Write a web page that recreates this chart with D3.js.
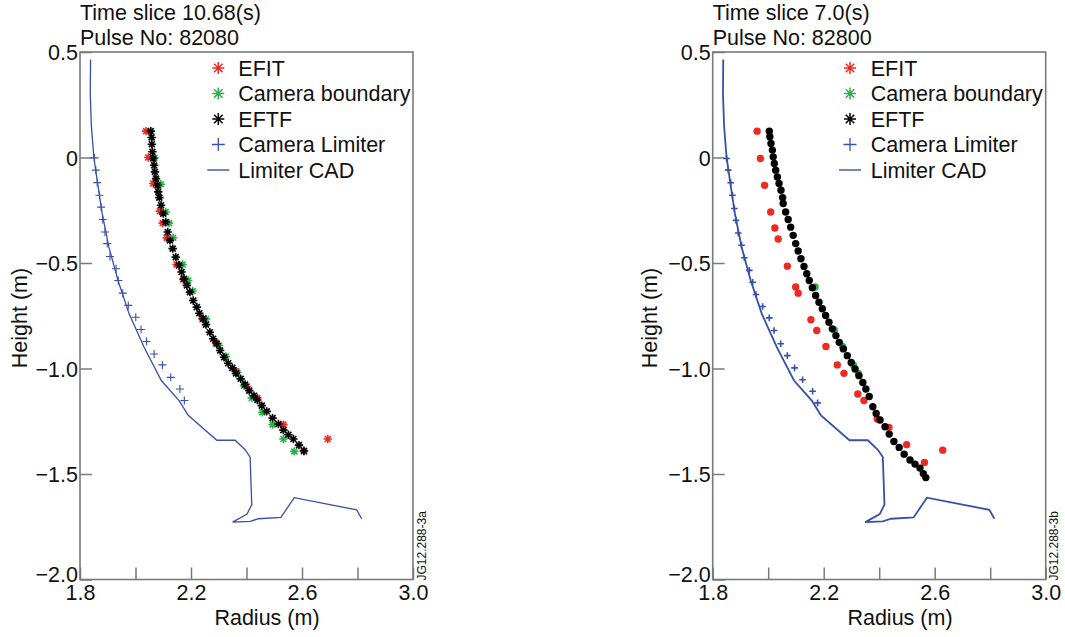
<!DOCTYPE html>
<html>
  <head>
    <title>EFIT / EFTF boundary comparison</title>
    <script src="https://d3js.org/d3.v7.min.js" charset="utf-8"></script>
    <style>
      body { margin: 0; background: #fff; }
      text { font-family: "Liberation Sans", Arial, Helvetica, sans-serif; fill: #111; }
    </style>
  </head>
  <body>
    <script>
      // ---- data (radius m, height m) ----
      var limiterCAD = [[1.838,0.465],[1.837,0.30],[1.841,0.15],[1.850,0.0],[1.862,-0.108],[1.880,-0.266],
        [1.904,-0.424],[1.937,-0.583],[1.977,-0.741],[2.031,-0.899],[2.093,-1.057],[2.157,-1.152],[2.190,-1.222],
        [2.293,-1.340],[2.359,-1.340],[2.395,-1.385],[2.413,-1.420],[2.419,-1.645],[2.402,-1.690],[2.350,-1.728],
        [2.413,-1.725],[2.443,-1.712],[2.524,-1.706],[2.572,-1.612],[2.797,-1.670],[2.815,-1.712]];

      // left panel, pulse 82080, t = 10.68 s
      var camLimiterA = [[1.852,-0.002],[1.857,-0.06],[1.862,-0.119],[1.870,-0.179],[1.876,-0.235],[1.882,-0.294],
        [1.890,-0.353],[1.898,-0.408],[1.908,-0.469],[1.930,-0.527],[1.938,-0.583],[1.954,-0.643],[1.974,-0.701],
        [2.001,-0.757],[2.020,-0.815],[2.040,-0.872],[2.067,-0.931],[2.097,-0.983],[2.127,-1.042],[2.160,-1.097],
        [2.176,-1.152]];
      var efitA = [[2.038,0.125],[2.046,0.0],[2.064,-0.123],[2.088,-0.254],[2.098,-0.311],[2.112,-0.380],
        [2.148,-0.507],[2.172,-0.578],[2.241,-0.765],[2.290,-0.878],[2.362,-1.013],[2.401,-1.085],[2.439,-1.140],
        [2.533,-1.266],[2.607,-1.393],[2.693,-1.334]];
      var camBoundaryA = [[2.068,-0.002],[2.091,-0.127],[2.109,-0.258],[2.121,-0.311],[2.136,-0.380],[2.170,-0.507],
        [2.190,-0.583],[2.206,-0.633],[2.254,-0.765],[2.301,-0.891],[2.326,-0.943],[2.367,-1.018],[2.391,-1.081],
        [2.419,-1.140],[2.457,-1.208],[2.494,-1.266],[2.533,-1.334],[2.572,-1.393]];
      var eftfA = [[2.055,0.125],[2.058,0.095],[2.059,0.063],[2.061,0.027],[2.064,-0.005],[2.067,-0.037],
        [2.070,-0.068],[2.074,-0.100],[2.079,-0.132],[2.082,-0.163],[2.086,-0.190],[2.092,-0.226],[2.100,-0.266],
        [2.109,-0.306],[2.116,-0.353],[2.124,-0.393],[2.134,-0.432],[2.145,-0.472],[2.157,-0.511],[2.166,-0.543],
        [2.175,-0.575],[2.185,-0.606],[2.196,-0.638],[2.208,-0.678],[2.221,-0.709],[2.230,-0.738],[2.244,-0.764],
        [2.254,-0.792],[2.268,-0.828],[2.280,-0.859],[2.293,-0.883],[2.305,-0.915],[2.319,-0.947],[2.334,-0.975],
        [2.349,-0.997],[2.362,-1.023],[2.379,-1.049],[2.395,-1.076],[2.410,-1.105],[2.427,-1.129],[2.439,-1.149],
        [2.455,-1.176],[2.473,-1.203],[2.494,-1.235],[2.515,-1.263],[2.533,-1.292],[2.551,-1.314],[2.569,-1.334],
        [2.589,-1.363],[2.607,-1.390]];

      // right panel, pulse 82800, t = 7.0 s
      var camLimiterB = [[1.850,-0.005],[1.856,-0.06],[1.865,-0.12],[1.871,-0.179],[1.878,-0.242],[1.884,-0.298],
        [1.892,-0.358],[1.904,-0.416],[1.914,-0.475],[1.932,-0.535],[1.944,-0.591],[1.956,-0.649],[1.980,-0.706],
        [2.004,-0.760],[2.021,-0.820],[2.045,-0.883],[2.069,-0.939],[2.095,-0.997],[2.124,-1.053],[2.160,-1.108],
        [2.178,-1.163]];
      var efitB = [[1.960,0.125],[1.972,-0.005],[1.987,-0.132],[2.009,-0.258],[2.024,-0.334],[2.036,-0.386],
        [2.069,-0.515],[2.099,-0.614],[2.108,-0.643],[2.154,-0.769],[2.175,-0.820],[2.208,-0.896],[2.249,-0.983],
        [2.273,-1.023],[2.323,-1.121],[2.345,-1.152],[2.393,-1.239],[2.435,-1.279],[2.499,-1.361],[2.563,-1.445],
        [2.629,-1.387]];
      var camBoundaryB = [[2.169,-0.614],[2.238,-0.817],[2.268,-0.896],[2.307,-0.983],[2.325,-1.023]];
      var eftfB = [[2.004,0.125],[2.006,0.098],[2.010,0.066],[2.015,0.035],[2.018,0.003],[2.022,-0.028],
        [2.027,-0.060],[2.033,-0.092],[2.039,-0.123],[2.046,-0.155],[2.052,-0.190],[2.054,-0.218],[2.063,-0.258],
        [2.072,-0.294],[2.081,-0.330],[2.090,-0.369],[2.099,-0.408],[2.108,-0.443],[2.118,-0.480],[2.129,-0.516],
        [2.139,-0.551],[2.148,-0.583],[2.159,-0.617],[2.171,-0.654],[2.183,-0.686],[2.195,-0.717],[2.207,-0.749],
        [2.219,-0.781],[2.231,-0.812],[2.244,-0.844],[2.256,-0.876],[2.271,-0.907],[2.285,-0.939],[2.299,-0.971],
        [2.313,-1.002],[2.327,-1.034],[2.341,-1.066],[2.352,-1.097],[2.364,-1.133],[2.377,-1.181],[2.389,-1.213],
        [2.403,-1.244],[2.421,-1.276],[2.436,-1.311],[2.453,-1.346],[2.472,-1.374],[2.490,-1.406],[2.511,-1.434],
        [2.529,-1.453],[2.547,-1.472],[2.559,-1.498],[2.568,-1.517]];

      var xTicks = [1.8, 2.0, 2.2, 2.4, 2.6, 2.8, 3.0];
      var xLabelled = [1.8, 2.2, 2.6, 3.0];
      var yTicks = [0.5, 0, -0.5, -1.0, -1.5, -2.0];
      var legendNames = ["EFIT", "Camera boundary", "EFTF", "Camera Limiter", "Limiter CAD"];

      var RED = "#ee2a24", GREEN = "#2fae4a", BLACK = "#000", BLUE = "#3750a8", FRAME = "#7a7a7a";
      var FS = 21.5; // main font size

      var width = 1065, height = 637;
      var svg = d3.select("body").append("svg")
        .attr("width", width)
        .attr("height", height);

      // 8-spoke asterisk and plus, as paths of half size r
      function asterisk(r) {
        var d = r * Math.SQRT1_2;
        return "M" + (-r) + ",0H" + r + "M0," + (-r) + "V" + r +
          "M" + (-d) + "," + (-d) + "L" + d + "," + d + "M" + (-d) + "," + d + "L" + d + "," + (-d);
      }
      function plus(r) {
        return "M" + (-r) + ",0H" + r + "M0," + (-r) + "V" + r;
      }

      function drawPanel(p) {
        var x = d3.scaleLinear().domain([1.8, 3.0]).range([p.left, p.left + 333]);
        var y = d3.scaleLinear().domain([-2.0, 0.5]).range([579.5, 52]);
        var g = svg.append("g");

        // axes (ticks point inwards)
        var xAxis = d3.axisBottom(x).tickValues(xTicks).tickSizeInner(-12).tickSizeOuter(0).tickPadding(5)
          .tickFormat(function(d){ return xLabelled.some(function(v){ return Math.abs(v - d) < 1e-9; }) ? d3.format(".1f")(d) : ""; });
        var yAxis = d3.axisLeft(y).tickValues(yTicks).tickSizeInner(-12).tickSizeOuter(0).tickPadding(2)
          .tickFormat(function(d){ return d === 0 ? "0" : d3.format(".1f")(d); });

        var gx = g.append("g").attr("transform", "translate(0,579.5)").call(xAxis);
        var gy = g.append("g").attr("transform", "translate(" + p.left + ",0)").call(yAxis);
        [gx, gy].forEach(function(a){
          a.select(".domain").remove();
          a.selectAll("line").attr("stroke", FRAME).attr("stroke-width", 1.5);
          a.selectAll("text").attr("font-size", FS).attr("fill", "#111")
            .attr("font-family", "'Liberation Sans', Arial, sans-serif");
        });
        // bottom label sits a little higher, clear of the 1.8 label
        gy.selectAll("text").attr("dy", function(d){ return d === -2.0 ? "0.1em" : "0.36em"; });

        // frame
        g.append("rect")
          .attr("x", x(1.8)).attr("y", y(0.5))
          .attr("width", x(3.0) - x(1.8)).attr("height", y(-2.0) - y(0.5))
          .attr("fill", "none").attr("stroke", FRAME).attr("stroke-width", 1.6);

        // limiter CAD line
        var line = d3.line().x(function(d){ return x(d[0]); }).y(function(d){ return y(d[1]); });
        g.append("path").datum(limiterCAD)
          .attr("d", line).attr("fill", "none")
          .attr("stroke", BLUE).attr("stroke-width", p.lineWidth);

        // camera limiter crosses
        g.append("g").selectAll("path").data(p.camLimiter).enter().append("path")
          .attr("transform", function(d){ return "translate(" + x(d[0]) + "," + y(d[1]) + ")"; })
          .attr("d", plus(p.plusSize)).attr("stroke", BLUE).attr("stroke-width", p.plusWidth);

        // boundary markers
        function markers(data, colour) {
          var sel = g.append("g").selectAll("path").data(data).enter();
          if (p.dots) {
            sel.append("circle")
              .attr("cx", function(d){ return x(d[0]); })
              .attr("cy", function(d){ return y(d[1]); })
              .attr("r", 3.7).attr("fill", colour);
          } else {
            sel.append("path")
              .attr("transform", function(d){ return "translate(" + x(d[0]) + "," + y(d[1]) + ")"; })
              .attr("d", asterisk(4.2)).attr("stroke", colour).attr("stroke-width", 1.6);
          }
        }
        markers(p.efit, RED);
        markers(p.camBoundary, GREEN);
        markers(p.eftf, BLACK);

        // legend
        var lg = g.append("g");
        var colours = [RED, GREEN, BLACK, BLUE, BLUE];
        legendNames.forEach(function(name, i){
          var by = 75.5 + i * 25.5;
          var cx = p.legendSymX, cy = by - 7.5;
          if (i < 3) {
            lg.append("path").attr("transform", "translate(" + cx + "," + cy + ")")
              .attr("d", asterisk(6)).attr("stroke", colours[i]).attr("stroke-width", 1.5);
          } else if (i === 3) {
            lg.append("path").attr("transform", "translate(" + cx + "," + cy + ")")
              .attr("d", plus(6.5)).attr("stroke", BLUE).attr("stroke-width", 1.3);
          } else {
            lg.append("line").attr("x1", cx - 11).attr("x2", cx + 11).attr("y1", cy).attr("y2", cy)
              .attr("stroke", BLUE).attr("stroke-width", 1.4);
          }
          lg.append("text").attr("x", p.legendTextX).attr("y", by).attr("font-size", FS).text(name);
        });

        // titles and axis names
        g.append("text").attr("x", p.left).attr("y", 19.5).attr("font-size", FS).text(p.title1);
        g.append("text").attr("x", p.left).attr("y", 44.5).attr("font-size", FS).text(p.title2);
        g.append("text").attr("x", p.xLabelX).attr("y", 625).attr("font-size", FS)
          .attr("text-anchor", "middle").text("Radius (m)");
        g.append("text").attr("transform", "translate(" + p.yLabelX + ",318) rotate(-90)")
          .attr("font-size", FS).attr("text-anchor", "middle").text("Height (m)");
        g.append("text").attr("transform", "translate(" + p.jgX + ",580.5) rotate(-90)")
          .attr("font-size", 12).text(p.jg);
      }

      drawPanel({
        left: 80, title1: "Time slice 10.68(s)", title2: "Pulse No: 82080",
        camLimiter: camLimiterA, efit: efitA, camBoundary: camBoundaryA, eftf: eftfA,
        dots: false, lineWidth: 1.3, plusSize: 4, plusWidth: 1.1,
        legendSymX: 218.3, legendTextX: 238.3, xLabelX: 267, yLabelX: 26.5, jgX: 426, jg: "JG12.288-3a"
      });
      drawPanel({
        left: 712.7, title1: "Time slice 7.0(s)", title2: "Pulse No: 82800",
        camLimiter: camLimiterB, efit: efitB, camBoundary: camBoundaryB, eftf: eftfB,
        dots: true, lineWidth: 1.8, plusSize: 3.3, plusWidth: 1.6,
        legendSymX: 850, legendTextX: 870.7, xLabelX: 900, yLabelX: 657, jgX: 1058, jg: "JG12.288-3b"
      });
    </script>
  </body>
</html>
